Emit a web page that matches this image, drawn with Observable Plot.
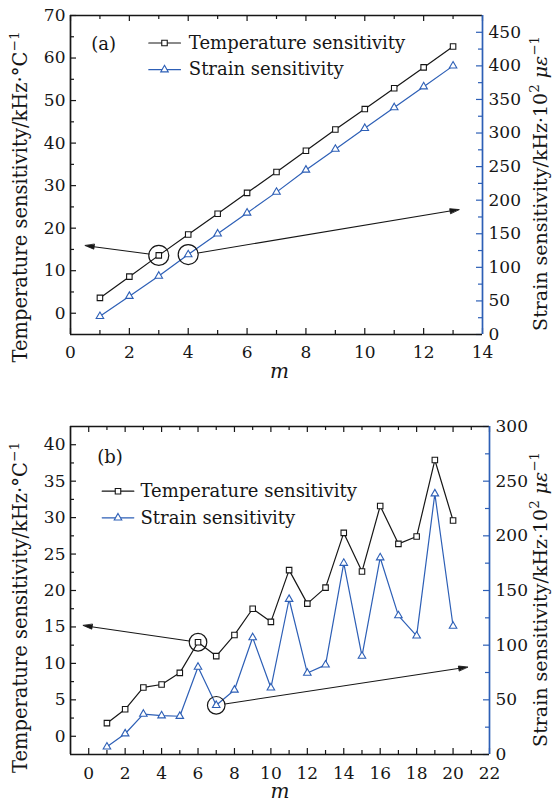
<!DOCTYPE html>
<html><head><meta charset="utf-8">
<script src="https://cdn.jsdelivr.net/npm/d3@7"></script>
<script src="https://cdn.jsdelivr.net/npm/@observablehq/plot@0.6"></script>
<style>
body{margin:0;background:#fff;}
#chart{width:553px;background:#fff;}
#chart svg{display:block;}
</style></head><body><div id="chart"></div>
<script>
// ---------------- data ----------------
const seriesNames = ["Temperature sensitivity", "Strain sensitivity"];

// Panel (a)
const mA = [1, 2, 3, 4, 5, 6, 7, 8, 9, 10, 11, 12, 13];
const tempA = [3.6, 8.6, 13.6, 18.5, 23.4, 28.3, 33.2, 38.2, 43.2, 48.0, 52.9, 57.8, 62.7];
const strainA = [27, 57, 87, 119, 150, 181, 212, 245, 276, 307, 338, 369, 400];
const xTicksA = [0, 2, 4, 6, 8, 10, 12, 14];
const xMinorA = [1, 3, 5, 7, 9, 11, 13];
const leftTicksA = [0, 10, 20, 30, 40, 50, 60, 70];
const leftMinorA = [5, 15, 25, 35, 45, 55, 65];
const rightTicksA = [0, 50, 100, 150, 200, 250, 300, 350, 400, 450];
const rightMinorA = [25, 75, 125, 175, 225, 275, 325, 375, 425];
const xDomainA = [0, 14], leftDomainA = [-5, 70], rightDomainA = [0, 475];
const circledA = {temp: 3, strain: 4};          // m values circled
const arrowTipA = {temp: [0.5, 15.9], strain: [13.2, 186]};

// Panel (b)
const mB = [1, 2, 3, 4, 5, 6, 7, 8, 9, 10, 11, 12, 13, 14, 15, 16, 17, 18, 19, 20];
const tempB = [1.8, 3.7, 6.7, 7.1, 8.7, 12.9, 11.0, 13.9, 17.5, 15.7, 22.8, 18.2, 20.4, 27.9, 22.6, 31.6, 26.4, 27.4, 37.9, 29.6];
const strainB = [7, 19, 37, 35.5, 35, 80, 45, 59, 107, 61, 142, 74.5, 82, 175, 90, 180, 127, 108.5, 238.5, 117.5];
const xTicksB = [0, 2, 4, 6, 8, 10, 12, 14, 16, 18, 20, 22];
const xMinorB = [1, 3, 5, 7, 9, 11, 13, 15, 17, 19, 21];
const leftTicksB = [0, 5, 10, 15, 20, 25, 30, 35, 40];
const leftMinorB = [2.5, 7.5, 12.5, 17.5, 22.5, 27.5, 32.5, 37.5];
const rightTicksB = [0, 50, 100, 150, 200, 250, 300];
const rightMinorB = [25, 75, 125, 175, 225, 275];
const xDomainB = [-1, 22], leftDomainB = [-2.5, 42.5], rightDomainB = [0, 300];
const circledB = {temp: 6, strain: 7};
const arrowTipB = {temp: [-0.3, 15.2], strain: [20.8, 80]};

// ---------------- style ----------------
const INK = "#161616", BLUE = "#2d5fb6";
const FONT = "'DejaVu Serif', serif";
const W = 553;
const lineShape = {draw(ctx, l) { ctx.moveTo(0, 0); ctx.lineTo(0, -l); }};
const headShape = {draw(ctx, l) { ctx.moveTo(0, -l); ctx.lineTo(-2.4, 0); ctx.lineTo(2.4, 0); ctx.closePath(); }};

function panel(c) {
  const innerW = W - c.margin.left - c.margin.right;
  const innerH = c.height - c.margin.top - c.margin.bottom;
  const [l0, l1] = c.left, [r0, r1] = c.right;
  const toL = s => l0 + (s - r0) * (l1 - l0) / (r1 - r0);
  const fromL = v => r0 + (v - l0) * (r1 - r0) / (l1 - l0);
  const rows = c.m.map((m, i) => ({m, t: c.temp[i], s: toL(c.strain[i])}));
  const cT = rows.find(d => d.m === c.circled.temp);
  const cS = rows.find(d => d.m === c.circled.strain);
  const kx = innerW / (c.xDomain[1] - c.xDomain[0]);
  const ky = innerH / (l1 - l0);
  const arrows = [
    {x1: cT.m, y1: cT.t, x2: c.tips.temp[0], y2: c.tips.temp[1]},
    {x1: cS.m, y1: cS.s, x2: c.tips.strain[0], y2: toL(c.tips.strain[1])}
  ].map(a => ({...a, angle: Math.atan2((a.x2 - a.x1) * kx, (a.y2 - a.y1) * ky) * 180 / Math.PI}));
  const L = c.legend;
  const txt = {fontFamily: FONT, fill: INK};
  const svg = Plot.plot({
    width: W, height: c.height,
    marginTop: c.margin.top, marginRight: c.margin.right,
    marginBottom: c.margin.bottom, marginLeft: c.margin.left,
    x: {domain: c.xDomain}, y: {domain: c.left},
    style: {fontFamily: FONT, fontSize: "17px", color: INK, background: "white", overflow: "visible"},
    marks: [
      // inward ticks
      Plot.ruleX(c.xTicks, {insetTop: innerH - 6, stroke: INK, strokeWidth: 1.2}),
      Plot.ruleX(c.xMinor, {insetTop: innerH - 4, stroke: INK, strokeWidth: 1.2}),
      Plot.ruleX(c.xTicks, {insetBottom: innerH - 6, stroke: INK, strokeWidth: 1.2}),
      Plot.ruleX(c.xMinor, {insetBottom: innerH - 4, stroke: INK, strokeWidth: 1.2}),
      Plot.ruleY(c.leftTicks, {insetRight: innerW - 6, stroke: INK, strokeWidth: 1.2}),
      Plot.ruleY(c.leftMinor, {insetRight: innerW - 4, stroke: INK, strokeWidth: 1.2}),
      Plot.ruleY(c.rightTicks.map(toL), {insetLeft: innerW - 6, stroke: BLUE, strokeWidth: 1.2}),
      Plot.ruleY(c.rightMinor.map(toL), {insetLeft: innerW - 4, stroke: BLUE, strokeWidth: 1.2}),
      // frame
      Plot.ruleY([l0, l1], {stroke: INK, strokeWidth: 1.7}),
      Plot.ruleX([c.xDomain[0]], {stroke: INK, strokeWidth: 1.7}),
      Plot.ruleX([c.xDomain[1]], {stroke: BLUE, strokeWidth: 1.7}),
      // tick labels
      Plot.axisX(c.xTicks, {anchor: "bottom", tickSize: 0, tickPadding: c.xPad, label: null, fontSize: 17, fontFamily: FONT, fill: INK}),
      Plot.axisY(c.leftTicks, {anchor: "left", tickSize: 0, tickPadding: 5, label: null, fontSize: 17, fontFamily: FONT, fill: INK}),
      Plot.axisY(c.rightTicks.map(toL), {anchor: "right", tickSize: 0, tickPadding: 6, label: null, fontSize: 17, fontFamily: FONT, fill: INK,
        tickFormat: d => String(Math.round(fromL(d)))}),
      // series
      Plot.line(rows, {x: "m", y: "t", stroke: INK, strokeWidth: 1.2}),
      Plot.line(rows, {x: "m", y: "s", stroke: BLUE, strokeWidth: 1.2}),
      Plot.dot(rows, {x: "m", y: "t", symbol: "square", r: 3.1, stroke: INK, fill: "white", strokeWidth: 1.1}),
      Plot.dot(rows, {x: "m", y: "s", symbol: "triangle", r: 2.8, stroke: BLUE, fill: "white", strokeWidth: 1.1}),
      // annotations
      Plot.dot([cT], {x: "m", y: "t", r: c.circleR, stroke: INK, fill: "none", strokeWidth: 1.2}),
      Plot.dot([cS], {x: "m", y: "s", r: c.circleR, stroke: INK, fill: "none", strokeWidth: 1.2}),
      Plot.arrow(arrows, {x1: "x1", y1: "y1", x2: "x2", y2: "y2", insetStart: c.circleR, insetEnd: 3, headLength: 0,
        stroke: INK, strokeWidth: 1.1}),
      Plot.vector(arrows, {x: "x2", y: "y2", rotate: "angle", length: 9, anchor: "end", shape: headShape,
        stroke: INK, fill: INK, strokeWidth: 0.8}),
      // legend
      Plot.text([c.tag], {...txt, text: d => d, frameAnchor: "top-left", lineAnchor: "middle", textAnchor: "start", dx: L.tagDx, dy: L.tagDy, fontSize: 18}),
      Plot.vector([0], {frameAnchor: "top-left", dx: L.lineDx, dy: L.row1, length: L.lineLen, rotate: 90, anchor: "start", shape: lineShape, stroke: INK, strokeWidth: 1.2}),
      Plot.dot([0], {frameAnchor: "top-left", dx: L.markDx, dy: L.row1, symbol: "square", r: 3.1, stroke: INK, fill: "white", strokeWidth: 1.1}),
      Plot.text([seriesNames[0]], {...txt, text: d => d, frameAnchor: "top-left", lineAnchor: "middle", textAnchor: "start", dx: L.textDx, dy: L.row1, fontSize: 18}),
      Plot.vector([0], {frameAnchor: "top-left", dx: L.lineDx, dy: L.row2, length: L.lineLen, rotate: 90, anchor: "start", shape: lineShape, stroke: BLUE, strokeWidth: 1.2}),
      Plot.dot([0], {frameAnchor: "top-left", dx: L.markDx, dy: L.row2, symbol: "triangle", r: 2.8, stroke: BLUE, fill: "white", strokeWidth: 1.1}),
      Plot.text([seriesNames[1]], {...txt, text: d => d, frameAnchor: "top-left", lineAnchor: "middle", textAnchor: "start", dx: L.textDx, dy: L.row2, fontSize: 18}),
      // axis titles
      Plot.text(["m"], {...txt, text: d => d, frameAnchor: "bottom", lineAnchor: "middle", dx: c.mDx, dy: 37, fontSize: 20, fontStyle: "italic"}),
      Plot.text(["@TITLE-L@"], {...txt, text: d => d, frameAnchor: "left", lineAnchor: "middle", textAnchor: "middle", rotate: -90, dx: -50, dy: c.titleL, fontSize: 19.5}),
      Plot.text(["@TITLE-R@"], {...txt, text: d => d, frameAnchor: "right", lineAnchor: "middle", textAnchor: "middle", rotate: -90, dx: c.titleRdx, dy: c.titleR, fontSize: 19})
    ]
  });
  rich(svg, "@TITLE-L@", [
    {text: "Temperature sensitivity/kHz·°C"},
    {text: "−1", size: "0.7em", dy: -8}
  ]);
  rich(svg, "@TITLE-R@", [
    {text: "Strain sensitivity/kHz·10"},
    {text: "2", size: "0.7em", dy: -8},
    {text: " με", italic: true, dy: 8},
    {text: "−1", size: "0.7em", dy: -8}
  ]);
  return svg;
}

function rich(svg, key, parts) {
  const t = d3.select(svg).selectAll("text").filter(function() { return this.textContent === key; });
  t.text(null);
  for (const p of parts) {
    const s = t.append("tspan").text(p.text);
    if (p.italic) s.attr("font-style", "italic");
    if (p.size) s.attr("font-size", p.size);
    if (p.dy) s.attr("dy", p.dy);
  }
}

const svgA = panel({
  m: mA, temp: tempA, strain: strainA, height: 395,
  margin: {top: 15, right: 71, bottom: 61, left: 70},
  xDomain: xDomainA, left: leftDomainA, right: rightDomainA,
  xTicks: xTicksA, xMinor: xMinorA, leftTicks: leftTicksA, leftMinor: leftMinorA,
  rightTicks: rightTicksA, rightMinor: rightMinorA,
  circled: circledA, tips: arrowTipA, circleR: 10, tag: "(a)", xPad: 11, mDx: 3,
  titleL: 22, titleR: 8.5, titleRdx: 58.5,
  legend: {tagDx: 20.7, tagDy: 28.3, lineDx: 78.3, lineLen: 31.7, markDx: 94, textDx: 118.3, row1: 27.5, row2: 54.2}
});
const svgB = panel({
  m: mB, temp: tempB, strain: strainB, height: 407,
  margin: {top: 31, right: 64, bottom: 48, left: 70},
  xDomain: xDomainB, left: leftDomainB, right: rightDomainB,
  xTicks: xTicksB, xMinor: xMinorB, leftTicks: leftTicksB, leftMinor: leftMinorB,
  rightTicks: rightTicksB, rightMinor: rightMinorB,
  circled: circledB, tips: arrowTipB, circleR: 8.8, tag: "(b)", xPad: 12, mDx: 0,
  titleL: 17, titleR: 9, titleRdx: 51.5,
  legend: {tagDx: 26.7, tagDy: 30.7, lineDx: 31.7, lineLen: 31.6, markDx: 47.5, textDx: 70, row1: 64.7, row2: 91.3}
});
document.getElementById("chart").append(svgA, svgB);
</script>
</body></html>
